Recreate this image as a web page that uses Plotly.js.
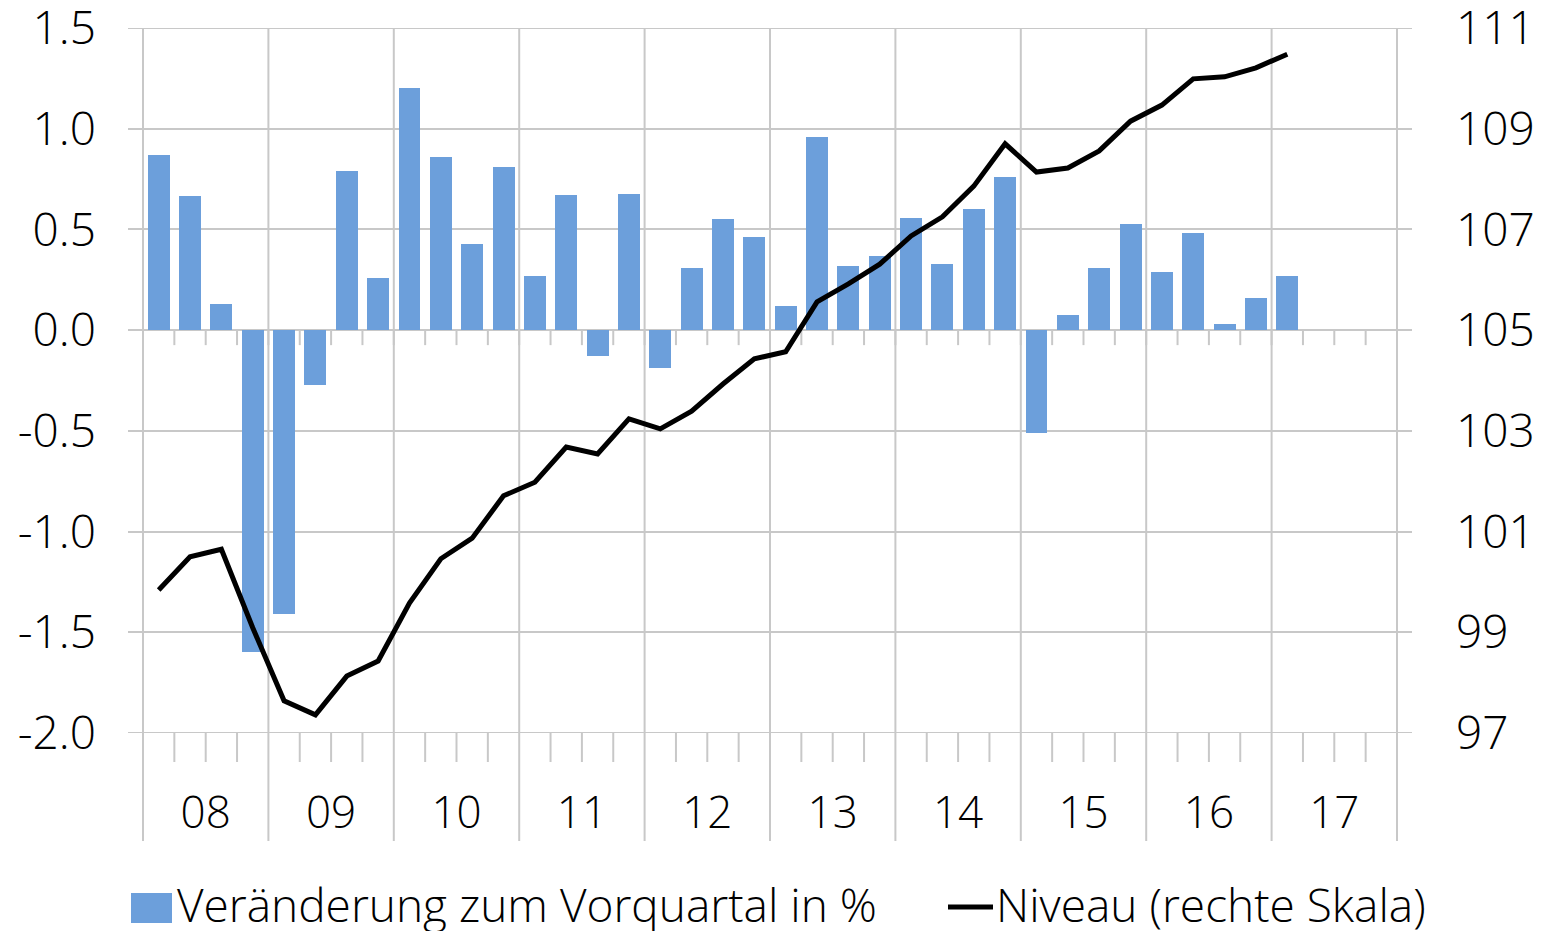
<!DOCTYPE html>
<html>
<head>
<meta charset="utf-8">
<script src="https://cdn.plot.ly/plotly-3.0.1.min.js"></script>
<style>html,body{margin:0;padding:0;background:#fff;}#chart{width:1543px;height:931px;}</style>
</head>
<body>
<div id="chart"></div>
<script>
// ---- data ----
const years = ["08","09","10","11","12","13","14","15","16","17"];
const quarters = ["2008Q1","2008Q2","2008Q3","2008Q4","2009Q1","2009Q2","2009Q3","2009Q4",
  "2010Q1","2010Q2","2010Q3","2010Q4","2011Q1","2011Q2","2011Q3","2011Q4",
  "2012Q1","2012Q2","2012Q3","2012Q4","2013Q1","2013Q2","2013Q3","2013Q4",
  "2014Q1","2014Q2","2014Q3","2014Q4","2015Q1","2015Q2","2015Q3","2015Q4",
  "2016Q1","2016Q2","2016Q3","2016Q4","2017Q1"];
const changePct = [0.87,0.665,0.13,-1.6,-1.41,-0.27,0.79,0.26,
  1.2,0.86,0.43,0.81,0.27,0.67,-0.13,0.675,
  -0.19,0.31,0.55,0.46,0.12,0.96,0.32,0.37,
  0.555,0.33,0.6,0.76,-0.51,0.075,0.31,0.525,
  0.29,0.48,0.03,0.16,0.27];
const level = [99.84,100.5,100.65,99.09,97.64,97.36,98.13,98.43,
  99.58,100.46,100.87,101.71,101.98,102.68,102.54,103.24,
  103.04,103.39,103.93,104.43,104.57,105.56,105.92,106.31,
  106.87,107.25,107.86,108.70,108.14,108.22,108.56,109.15,
  109.47,109.99,110.03,110.21,110.48];
const nameBars = "Veränderung zum Vorquartal in %";
const nameLine = "Niveau (rechte Skala)";
const leftTicks = [-2.0,-1.5,-1.0,-0.5,0.0,0.5,1.0,1.5];
const rightTicks = [97,99,101,103,105,107,109,111];

// ---- geometry ----
const L = 128, R = 1412, T = 28, B = 733;
const W = R - L, H = B - T;
const fx = px => (px - L) / W;
const fy = py => (B - py) / H;
const nQ = years.length * 4;
const xIdx = quarters.map((q, i) => i);
const grid = "#c8c8c8";
const font = "'Open Sans', 'Noto Sans', sans-serif";

const shapes = [];
// top and bottom horizontal gridlines (range edges)
[leftTicks[0], leftTicks[leftTicks.length-1]].forEach(v => {
  shapes.push({type:"line", xref:"paper", yref:"y", x0:0, x1:1, y0:v, y1:v,
    line:{color:grid, width:2}, layer:"below"});
});
// year separator lines
for (let k = 0; k <= years.length; k++) {
  shapes.push({type:"line", xref:"x", yref:"paper", x0:4*k-0.5, x1:4*k-0.5, y0:fy(841), y1:1,
    line:{color:grid, width:2}, layer:"below"});
}
// quarter ticks at zero line and at bottom
for (let q = 0; q <= nQ; q++) {
  shapes.push({type:"line", xref:"x", yref:"y", x0:q-0.5, x1:q-0.5, y0:0, y1:-15/201.4,
    line:{color:grid, width:2}, layer:"below"});
  if (q % 4 !== 0) {
    shapes.push({type:"line", xref:"x", yref:"paper", x0:q-0.5, x1:q-0.5, y0:0, y1:fy(762),
      line:{color:grid, width:2}, layer:"below"});
  }
}
// custom legend
shapes.push({type:"rect", xref:"paper", yref:"paper", x0:fx(131), x1:fx(172), y0:fy(923), y1:fy(893),
  fillcolor:"#6C9FDB", line:{width:0}});
shapes.push({type:"line", xref:"paper", yref:"paper", x0:fx(948), x1:fx(993), y0:fy(907), y1:fy(907),
  line:{color:"#000", width:5}});

const legFont = {family:"'Open Sans', sans-serif", size:46, color:"#000", weight:300};
const annotations = [
  {xref:"paper", yref:"paper", x:fx(175), y:fy(904), xanchor:"left", yanchor:"middle", showarrow:false,
   text:nameBars, font:legFont},
  {xref:"paper", yref:"paper", x:fx(994), y:fy(904), xanchor:"left", yanchor:"middle", showarrow:false,
   text:nameLine, font:legFont}
];

const traces = [
  {type:"bar", x:xIdx, y:changePct, name:nameBars, width:0.7,
   marker:{color:"#6C9FDB", line:{width:0}}, hoverinfo:"y"},
  {type:"scatter", mode:"lines", x:xIdx, y:level, name:nameLine, yaxis:"y2",
   line:{color:"#000", width:5}, hoverinfo:"y"}
];

const layout = {
  width:1543, height:931,
  margin:{l:L, r:1543-R, t:T, b:931-B},
  paper_bgcolor:"#fff", plot_bgcolor:"#fff",
  showlegend:false,
  font:{family:font, color:"#000"},
  bargap:0,
  xaxis:{type:"linear", range:[-0.5-15/31.35, nQ-0.5+15/31.35], showgrid:false, zeroline:false,
    showline:false, ticks:"", tickvals:years.map((y,k)=>4*k+1.5), ticktext:years,
    tickfont:{size:44, family:font, weight:300}, ticklabelstandoff:50, fixedrange:true},
  yaxis:{range:[-2,1.5], tickvals:leftTicks, ticktext:leftTicks.map(v=>v.toFixed(1)),
    showgrid:true, gridcolor:grid, gridwidth:2, zeroline:true, zerolinecolor:grid, zerolinewidth:2,
    showline:false, ticks:"", tickfont:{size:46, family:font, weight:300}, ticklabelstandoff:31,
    ticklabeloverflow:"allow"},
  yaxis2:{range:[97,111], overlaying:"y", side:"right", tickvals:rightTicks,
    showgrid:false, zeroline:false, showline:false, ticks:"",
    tickfont:{size:46, family:font, weight:300}, ticklabelstandoff:43, ticklabeloverflow:"allow"},
  shapes:shapes,
  annotations:annotations
};

Plotly.newPlot("chart", traces, layout, {displayModeBar:false, staticPlot:true});
</script>
</body>
</html>
